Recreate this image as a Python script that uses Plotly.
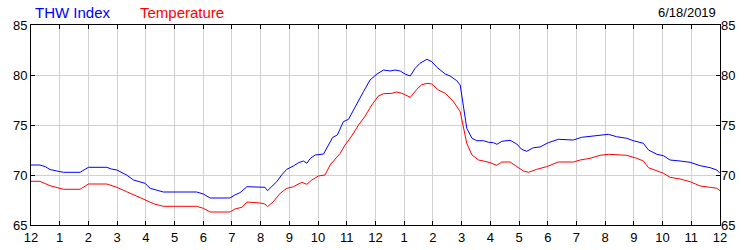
import plotly.graph_objects as go

# ---- data (hours since midnight, degrees F) ----
thw_hours = [0, 0.31, 0.5, 0.66, 0.9, 1.13, 1.71, 1.85, 2.0, 2.64, 2.8, 2.99, 3.33, 3.57, 3.97, 4.15, 4.35, 4.61,
             5.77, 6.0, 6.24, 6.93, 7.1, 7.28, 7.52, 7.98, 8.15, 8.24, 8.39, 8.56, 8.73, 8.91, 9.14, 9.32, 9.49,
             9.61, 9.72, 9.9, 10.19, 10.36, 10.51, 10.67, 10.88, 11.06, 11.23, 11.41, 11.58, 11.81, 12.05, 12.28,
             12.51, 12.68, 12.86, 13.03, 13.21, 13.38, 13.55, 13.79, 13.96, 14.14, 14.43, 14.6, 14.83, 14.95,
             15.06, 15.18, 15.36, 15.53, 15.76, 15.94, 16.11, 16.23, 16.4, 16.69, 16.92, 17.09, 17.27, 17.5,
             17.73, 18.02, 18.37, 18.89, 19.18, 19.47, 19.71, 20.11, 20.4, 20.75, 20.98, 21.33, 21.51, 21.8,
             22.03, 22.26, 22.61, 22.96, 23.31, 23.66, 23.89, 24.0]
thw_values = [71.0, 71.0, 70.83, 70.55, 70.4, 70.27, 70.27, 70.5, 70.77, 70.77, 70.6, 70.5, 70.0, 69.5, 69.17,
              68.67, 68.5, 68.3, 68.3, 68.1, 67.7, 67.7, 68.0, 68.23, 68.83, 68.83, 68.77, 68.43, 68.83, 69.33,
              70.0, 70.57, 70.9, 71.23, 71.4, 71.17, 71.63, 72.0, 72.1, 73.0, 73.77, 74.0, 75.33, 75.57, 76.5,
              77.5, 78.33, 79.5, 80.1, 80.5, 80.4, 80.5, 80.4, 80.1, 79.9, 80.67, 81.17, 81.57, 81.33, 80.77,
              80.1, 79.9, 79.43, 79.0, 76.83, 74.67, 73.67, 73.43, 73.43, 73.27, 73.23, 73.07, 73.37, 73.47,
              73.1, 72.57, 72.37, 72.73, 72.8, 73.23, 73.57, 73.5, 73.77, 73.87, 74.0, 74.07, 73.83, 73.67,
              73.43, 73.17, 72.5, 72.07, 71.93, 71.5, 71.4, 71.27, 70.93, 70.73, 70.5, 70.17]

temp_hours = [0, 0.31, 0.66, 0.9, 1.13, 1.71, 2.0, 2.64, 2.99, 3.33, 3.67, 3.97, 4.3, 4.61, 5.77, 6.0, 6.24,
              6.93, 7.1, 7.35, 7.52, 7.98, 8.15, 8.24, 8.44, 8.68, 8.91, 9.14, 9.43, 9.61, 9.78, 10.01, 10.24,
              10.42, 10.59, 10.77, 10.94, 11.17, 11.41, 11.64, 11.87, 12.1, 12.28, 12.57, 12.74, 12.92, 13.21,
              13.44, 13.61, 13.79, 13.96, 14.19, 14.43, 14.72, 14.95, 15.06, 15.18, 15.36, 15.59, 15.76, 15.99,
              16.22, 16.4, 16.69, 16.92, 17.15, 17.33, 17.62, 17.96, 18.37, 18.89, 19.13, 19.47, 19.82, 20.11,
              20.4, 20.75, 21.1, 21.33, 21.51, 21.8, 22.03, 22.26, 22.61, 22.96, 23.31, 23.66, 23.89, 24.0]
temp_values = [69.37, 69.37, 68.93, 68.75, 68.57, 68.57, 69.1, 69.1, 68.77, 68.33, 67.9, 67.5, 67.1, 66.87,
               66.87, 66.67, 66.3, 66.3, 66.6, 66.77, 67.3, 67.2, 67.1, 66.83, 67.33, 68.17, 68.67, 68.83, 69.27,
               69.07, 69.5, 69.9, 70.0, 71.0, 71.57, 72.17, 73.0, 73.9, 75.0, 75.9, 77.0, 77.9, 78.13, 78.17,
               78.3, 78.17, 77.77, 78.57, 79.03, 79.17, 79.1, 78.5, 78.17, 77.33, 76.33, 74.83, 73.17, 72.0,
               71.5, 71.4, 71.23, 70.97, 71.3, 71.3, 70.83, 70.4, 70.27, 70.57, 70.83, 71.3, 71.3, 71.5, 71.67,
               71.97, 72.07, 72.0, 71.97, 71.67, 71.4, 70.73, 70.4, 70.17, 69.77, 69.6, 69.33, 68.9, 68.77,
               68.67, 68.43]

x_tick_vals = list(range(0, 25))
x_tick_text = ["12", "1", "2", "3", "4", "5", "6", "7", "8", "9", "10", "11",
               "12", "1", "2", "3", "4", "5", "6", "7", "8", "9", "10", "11", "12"]
y_tick_vals = [65, 70, 75, 80, 85]

series_names = ["THW Index", "Temperature"]
date_label = "6/18/2019"

assert len(thw_hours) == len(thw_values)
assert len(temp_hours) == len(temp_values)

FONT = "Liberation Sans, Arial, sans-serif"

fig = go.Figure()
fig.add_trace(go.Scatter(x=thw_hours, y=thw_values, mode="lines", name=series_names[0],
                         line=dict(color="#0000FF", width=1), yaxis="y"))
fig.add_trace(go.Scatter(x=temp_hours, y=temp_values, mode="lines", name=series_names[1],
                         line=dict(color="#FF0000", width=1), yaxis="y2"))

axis_common = dict(ticks="inside", ticklen=4, tickcolor="black", tickwidth=1, automargin=False,
                   tickfont=dict(family=FONT, size=13, color="black"))

fig.update_layout(
    width=750, height=250,
    margin=dict(l=31, r=30, t=25, b=25, pad=0),
    paper_bgcolor="white", plot_bgcolor="white",
    showlegend=False,
    font=dict(family=FONT, size=13, color="black"),
    xaxis=dict(range=[0, 24], tickmode="array", tickvals=x_tick_vals, ticktext=x_tick_text,
               showgrid=True, gridcolor="#d0d0d0", gridwidth=1, zeroline=False,
               showline=True, linecolor="black", linewidth=1, mirror="ticks", **axis_common),
    yaxis=dict(range=[65, 85], tickmode="array", tickvals=y_tick_vals,
               showgrid=True, gridcolor="#d0d0d0", gridwidth=1, zeroline=False,
               showline=True, linecolor="black", linewidth=1, mirror="ticks", **axis_common),
    yaxis2=dict(range=[65, 85], tickmode="array", tickvals=y_tick_vals, overlaying="y", side="right",
                showgrid=False, zeroline=False, showline=False, ticks="", automargin=False,
                tickfont=dict(family=FONT, size=13, color="black")),
    annotations=[
        dict(text=series_names[0], x=0.0029, y=1.065, xref="paper", yref="paper", xanchor="left",
             yanchor="middle", showarrow=False, font=dict(family=FONT, size=15, color="#0000FF")),
        dict(text=series_names[1], x=0.155, y=1.065, xref="paper", yref="paper", xanchor="left",
             yanchor="middle", showarrow=False, font=dict(family=FONT, size=15, color="#FF0000")),
        dict(text=date_label, x=0.997, y=1.065, xref="paper", yref="paper", xanchor="right",
             yanchor="middle", showarrow=False, font=dict(family=FONT, size=13, color="black")),
    ],
)

fig.write_html("out.html")
